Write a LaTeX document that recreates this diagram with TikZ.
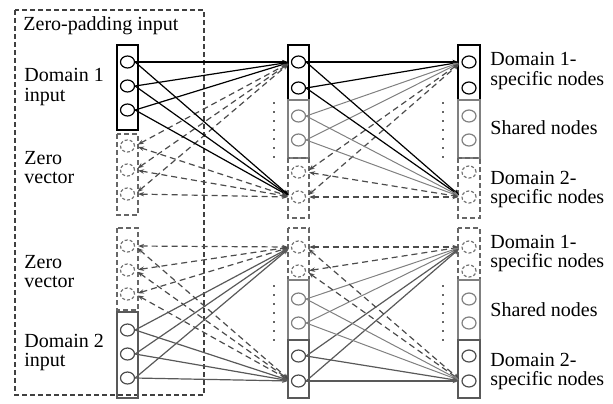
\documentclass[tikz,border=0pt]{standalone}
\usepackage{fontspec}
\setmainfont{Liberation Serif}
\usetikzlibrary{positioning, shapes.geometric, arrows.meta}

\begin{document}
\begin{tikzpicture}[x=0.5pt, y=-0.5pt,
            unit/.style={ellipse, draw, minimum width=7pt, minimum height=6pt, inner sep=0pt, line width=0.6pt},
            d1node/.style={unit, black},
            sharednode/.style={unit, black!50},
            zeronode/.style={unit, black!55, dash pattern=on 1.5pt off 1pt},
            d2node/.style={unit, black!70},
            d1box/.style={draw=black, line width=0.7pt},
            sharedbox/.style={draw=black!50, line width=0.7pt},
            zerobox/.style={draw=black!60, line width=0.6pt, dash pattern=on 2.5pt off 1.5pt},
            d2box/.style={draw=black!65, line width=0.7pt},
            tip/.style={-{Stealth[length=3pt, width=2.2pt]}, shorten >=1.5pt},
            d1edge/.style={tip, black, line width=0.6pt},
            sharededge/.style={tip, black!50, line width=0.5pt},
            d2edge/.style={tip, black!65, line width=0.6pt},
            zeroedge/.style={{Stealth[length=3pt, width=2.2pt]}-{Stealth[length=3pt, width=2.2pt]}, shorten >=1.5pt, shorten <=1.5pt,
                    black!70, line width=0.6pt, dash pattern=on 3pt off 2pt},
            dotline/.style={black!60, line width=0.8pt, dash pattern=on 0.8pt off 3.7pt},
            lbl/.style={font=\fontsize{10}{9.5}\selectfont, align=left, inner sep=0pt, anchor=west}
        ]
        \useasboundingbox (0,0) rectangle (613,403);

        % zero-padding frame round the input column
        \draw[black!75, line width=0.6pt, dash pattern=on 2.5pt off 1.5pt] (15,10) rectangle (204,395);
        \node[lbl] (padlbl) at (23,26) {Zero-padding input};

        % ---- upper half: domain 1 sample ----
        % input column
        \draw[d1box] (117,45) rectangle (138,130);
        \draw[zerobox] (117,134) rectangle (138,215);
        \node[d1node] (ti1) at (127.5,62) {};
        \node[d1node] (ti2) at (127.5,86) {};
        \node[d1node] (ti3) at (127.5,110) {};
        \node[zeronode] (ti4) at (127.5,146) {};
        \node[zeronode] (ti5) at (127.5,170) {};
        \node[zeronode] (ti6) at (127.5,194) {};

        % hidden column
        \draw[d1box] (288,45) rectangle (309,100);
        \draw[sharedbox] (288,100) rectangle (309,158);
        \draw[zerobox] (288,158) rectangle (309,218);
        \node[d1node] (th1) at (298.5,62) {};
        \node[d1node] (th2) at (298.5,88) {};
        \node[sharednode] (th3) at (298.5,116) {};
        \node[sharednode] (th4) at (298.5,140) {};
        \node[zeronode] (th5) at (298.5,172) {};
        \node[zeronode] (th6) at (298.5,197) {};

        % output column
        \draw[d1box] (458,45) rectangle (480,100);
        \draw[sharedbox] (458,100) rectangle (480,158);
        \draw[zerobox] (458,158) rectangle (480,218);
        \node[d1node] (to1) at (469,62) {};
        \node[d1node] (to2) at (469,88) {};
        \node[sharednode] (to3) at (469,116) {};
        \node[sharednode] (to4) at (469,140) {};
        \node[zeronode] (to5) at (469,172) {};
        \node[zeronode] (to6) at (469,197) {};

        \coordinate (tdot1a) at (274,102);
        \coordinate (tdot1b) at (274,162);
        \coordinate (tdot2a) at (443,102);
        \coordinate (tdot2b) at (443,162);
        \draw[dotline] (tdot1a) -- (tdot1b);
        \draw[dotline] (tdot2a) -- (tdot2b);

        % connections, upper half
        \foreach \t in {1,6} {
            \foreach \s in {1,2,3} \draw[d1edge] (ti\s.east) -- (th\t.west);
            \foreach \s in {4,5,6} \draw[zeroedge] (ti\s.east) -- (th\t.west);
            \foreach \s in {1,2} \draw[d1edge] (th\s.east) -- (to\t.west);
            \foreach \s in {3,4} \draw[sharededge] (th\s.east) -- (to\t.west);
            \foreach \s in {5,6} \draw[zeroedge] (th\s.east) -- (to\t.west);
        }

        % ---- lower half: domain 2 sample ----
        % input column
        \draw[zerobox] (117,228) rectangle (138,310);
        \draw[d2box] (117,312) rectangle (138,398);
        \node[zeronode] (bi1) at (127.5,246) {};
        \node[zeronode] (bi2) at (127.5,270) {};
        \node[zeronode] (bi3) at (127.5,294) {};
        \node[d2node] (bi4) at (127.5,330) {};
        \node[d2node] (bi5) at (127.5,354) {};
        \node[d2node] (bi6) at (127.5,378) {};

        % hidden column
        \draw[zerobox] (288,228) rectangle (309,280);
        \draw[sharedbox] (288,280) rectangle (309,340);
        \draw[d2box] (288,340) rectangle (309,398);
        \node[zeronode] (bh1) at (298.5,247) {};
        \node[zeronode] (bh2) at (298.5,271) {};
        \node[sharednode] (bh3) at (298.5,299) {};
        \node[sharednode] (bh4) at (298.5,323) {};
        \node[d2node] (bh5) at (298.5,356) {};
        \node[d2node] (bh6) at (298.5,381) {};

        % output column
        \draw[zerobox] (458,228) rectangle (480,280);
        \draw[sharedbox] (458,280) rectangle (480,340);
        \draw[d2box] (458,340) rectangle (480,398);
        \node[zeronode] (bo1) at (469,247) {};
        \node[zeronode] (bo2) at (469,271) {};
        \node[sharednode] (bo3) at (469,299) {};
        \node[sharednode] (bo4) at (469,323) {};
        \node[d2node] (bo5) at (469,356) {};
        \node[d2node] (bo6) at (469,381) {};

        \coordinate (bdot1a) at (274,285);
        \coordinate (bdot1b) at (274,343);
        \coordinate (bdot2a) at (443,285);
        \coordinate (bdot2b) at (443,343);
        \draw[dotline] (bdot1a) -- (bdot1b);
        \draw[dotline] (bdot2a) -- (bdot2b);

        % connections, lower half
        \foreach \t in {1,6} {
            \foreach \s in {1,2,3} \draw[zeroedge] (bi\s.east) -- (bh\t.west);
            \foreach \s in {4,5,6} \draw[d2edge] (bi\s.east) -- (bh\t.west);
            \foreach \s in {1,2} \draw[zeroedge] (bh\s.east) -- (bo\t.west);
            \foreach \s in {3,4} \draw[sharededge] (bh\s.east) -- (bo\t.west);
            \foreach \s in {5,6} \draw[d2edge] (bh\s.east) -- (bo\t.west);
        }

        % left labels
        \node[lbl] (d1in) at (24,87) {Domain 1\\input};
        \node[lbl] (zv1) at (24,168) {Zero\\vector};
        \node[lbl] (zv2) at (24,272) {Zero\\vector};
        \node[lbl] (d2in) at (24,352) {Domain 2\\input};

        % right labels
        \node[lbl] (td1) at (490,71) {Domain 1-\\specific nodes};
        \node[lbl] (tsh) at (490,128) {Shared nodes};
        \node[lbl] (td2) at (490,189) {Domain 2-\\specific nodes};
        \node[lbl] (bd1) at (490,253) {Domain 1-\\specific nodes};
        \node[lbl] (bsh) at (490,310) {Shared nodes};
        \node[lbl] (bd2) at (490,371) {Domain 2-\\specific nodes};
\end{tikzpicture}
\end{document}
